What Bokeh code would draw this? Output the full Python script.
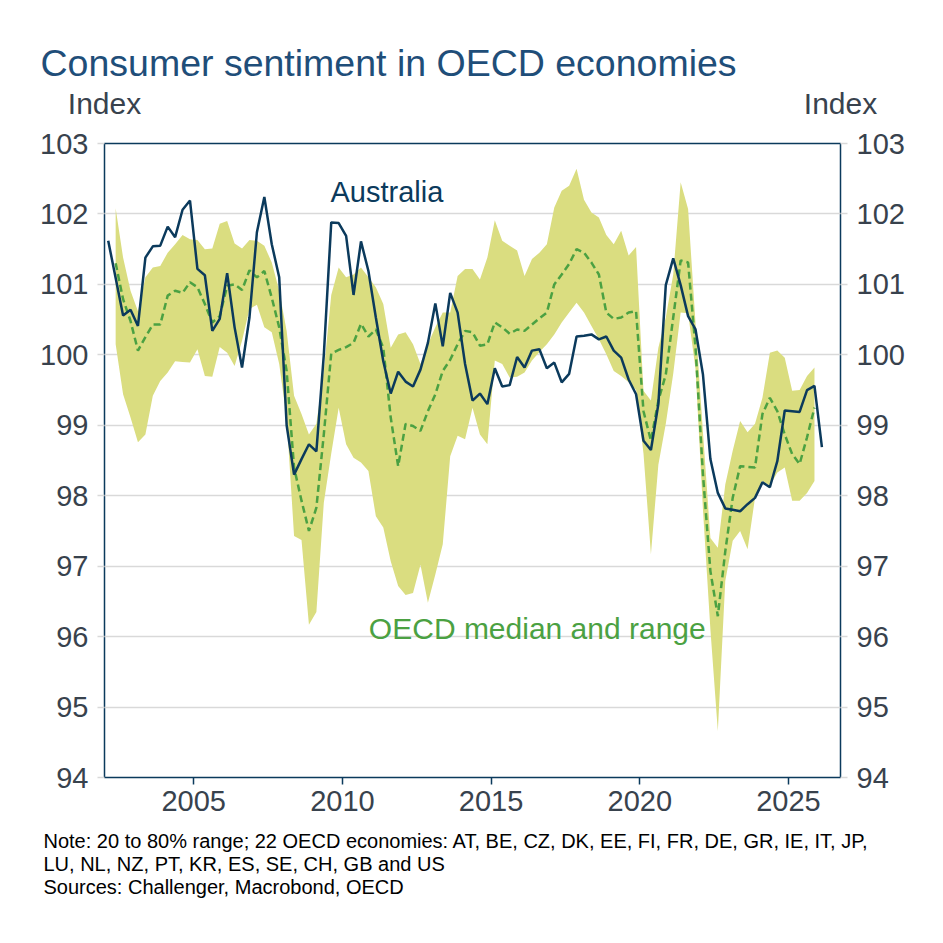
from bokeh.plotting import figure
from bokeh.models import Range1d, LinearAxis, FixedTicker, Label
from bokeh.layouts import column
from bokeh.embed import file_html
from bokeh.resources import INLINE

# ---------------- data (quarterly) ----------------
aus_start = (2002, 1)    # first quarter of the Australian series
oecd_start = (2002, 2)   # first quarter of the OECD series

australia = [
    101.62, 101.09, 100.56, 100.64, 100.41, 101.38, 101.54, 101.55, 101.82, 101.67,
    102.06, 102.19, 101.22, 101.13, 100.34, 100.51, 101.16, 100.39, 99.82, 100.53,
    101.74, 102.24, 101.57, 101.10, 99.00, 98.30, 98.52, 98.73, 98.63, 100.00,
    101.88, 101.87, 101.69, 100.85, 101.61, 101.19, 100.53, 99.91, 99.45, 99.76,
    99.62, 99.55, 99.79, 100.17, 100.73, 100.12, 100.88, 100.60, 99.87, 99.35,
    99.45, 99.30, 99.81, 99.55, 99.57, 99.97, 99.82, 100.06, 100.08, 99.81,
    99.89, 99.61, 99.73, 100.26, 100.27, 100.29, 100.22, 100.26, 100.06, 99.96,
    99.65, 99.44, 98.78, 98.65, 99.30, 100.99, 101.37, 100.99, 100.55, 100.36,
    99.72, 98.52, 98.04, 97.82, 97.80, 97.78, 97.88, 97.97, 98.19, 98.12,
    98.49, 99.21, 99.20, 99.19, 99.50, 99.56, 98.69,
]

oecd_median = [
    101.30, 100.79, 100.48, 100.06, 100.25, 100.43, 100.43, 100.84, 100.91, 100.88,
    101.03, 100.96, 100.72, 100.46, 100.55, 100.98, 101.00, 100.92, 101.20, 101.10,
    101.19, 100.81, 100.39, 99.77, 98.40, 97.93, 97.50, 97.83, 98.87, 100.02,
    100.07, 100.11, 100.17, 100.44, 100.26, 100.36, 100.10, 99.11, 98.42, 99.02,
    98.99, 98.92, 99.20, 99.44, 99.77, 99.93, 100.15, 100.34, 100.32, 100.13,
    100.15, 100.46, 100.39, 100.30, 100.36, 100.34, 100.43, 100.52, 100.60, 101.00,
    101.14, 101.29, 101.50, 101.45, 101.31, 101.14, 100.60, 100.51, 100.53, 100.60,
    100.62, 99.20, 98.78, 99.35, 99.72, 100.53, 101.34, 101.31, 100.10, 98.30,
    96.93, 96.29, 97.21, 97.97, 98.42, 98.41, 98.40, 99.16, 99.39, 99.20,
    98.87, 98.59, 98.45, 98.83, 99.25,
]

oecd_upper = [
    102.08, 101.38, 100.91, 100.62, 101.10, 101.24, 101.26, 101.45, 101.57, 101.70,
    101.64, 101.63, 101.50, 101.51, 101.86, 101.90, 101.58, 101.51, 101.63, 101.62,
    101.55, 101.31, 100.91, 100.34, 99.42, 99.16, 98.87, 99.02, 99.77, 100.85,
    101.24, 101.10, 101.14, 101.24, 101.10, 100.96, 100.72, 100.10, 100.29, 100.32,
    100.15, 99.87, 100.15, 100.39, 100.60, 100.60, 101.12, 101.22, 101.22, 101.07,
    101.38, 101.91, 101.62, 101.55, 101.48, 101.12, 101.36, 101.45, 101.57, 102.09,
    102.33, 102.40, 102.64, 102.20, 102.02, 101.95, 101.70, 101.57, 101.76, 101.41,
    101.53, 99.49, 99.35, 100.10, 100.53, 101.14, 102.45, 102.07, 100.45, 98.90,
    97.40, 97.26, 98.16, 98.64, 99.06, 98.90, 99.02, 99.39, 100.03, 100.06,
    99.96, 99.49, 99.50, 99.70, 99.82,
]

oecd_lower = [
    100.15, 99.44, 99.11, 98.76, 98.87, 99.42, 99.63, 99.75, 99.91, 99.90,
    99.89, 100.08, 99.70, 99.69, 100.11, 100.03, 99.84, 100.20, 100.65, 100.71,
    100.39, 100.32, 99.87, 99.10, 97.43, 97.37, 96.17, 96.35, 97.90, 98.60,
    99.25, 98.73, 98.54, 98.47, 98.35, 97.71, 97.55, 97.07, 96.72, 96.59,
    96.62, 97.02, 96.48, 96.88, 97.31, 98.56, 98.85, 98.80, 99.25, 98.87,
    98.73, 99.92, 99.87, 99.68, 99.69, 99.75, 99.92, 100.04, 100.15, 100.29,
    100.46, 100.60, 100.74, 100.60, 100.41, 100.22, 100.01, 99.77, 99.70, 99.61,
    99.50, 98.60, 97.17, 98.44, 99.02, 99.73, 100.60, 100.59, 99.80, 97.80,
    96.10, 94.66, 96.79, 97.36, 97.50, 97.24, 97.97, 98.21, 98.14, 98.33,
    98.40, 97.93, 97.93, 98.04, 98.21,
]

x_ticks = [2005, 2010, 2015, 2020, 2025]
y_ticks = [94, 95, 96, 97, 98, 99, 100, 101, 102, 103]

title_text = "Consumer sentiment in OECD economies"
axis_unit = "Index"
series_labels = ["Australia", "OECD median and range"]
notes = [
    "Note: 20 to 80% range; 22 OECD economies: AT, BE, CZ, DK, EE, FI, FR, DE, GR, IE, IT, JP,",
    "LU, NL, NZ, PT, KR, ES, SE, CH, GB and US",
    "Sources: Challenger, Macrobond, OECD",
]


def quarter_positions(start, n):
    """Decimal-year position of the middle of each quarter."""
    year, q = start
    return [year + (q - 1 + i) * 0.25 + 0.125 for i in range(n)]


x_aus = quarter_positions(aus_start, len(australia))
x_oecd = quarter_positions(oecd_start, len(oecd_median))

# ---------------- style ----------------
FONT = "Liberation Sans"
NAVY = "#0b3a5c"
GREEN = "#4ba142"
BAND = "#dadd80"
TITLE_C = "#1f4e79"
TXT = "#38424d"
GRID = "#d9d9d9"

W = 943
TOP_H = 124          # header strip (title, units)
BOT_H = 116          # footer strip (notes)
MAIN_H = W - TOP_H - BOT_H
FL, FR = 104, 103
FT = 143 - TOP_H               # frame top at y=143 on the page
FB = MAIN_H - (777 - TOP_H)    # frame bottom at y=777 on the page
DY = 12                        # measured baseline correction of the text strips


def text_strip(height):
    f = figure(width=W, height=height, output_backend="svg", toolbar_location=None,
               x_range=Range1d(0, W), y_range=Range1d(height, 0),
               x_axis_type=None, y_axis_type=None,
               min_border=0, min_border_left=0, min_border_right=0,
               min_border_top=0, min_border_bottom=0, frame_align=False)
    f.title = None
    f.outline_line_color = None
    f.grid.visible = False
    f.background_fill_color = "white"
    f.border_fill_color = "white"
    return f


def put(f, x, y, txt, size, color, align="left"):
    f.add_layout(Label(x=x, y=y - DY, text=txt, text_font=FONT, text_font_size=size,
                       text_color=color, text_baseline="alphabetic", text_align=align))


# header (coordinates are page pixels)
top = text_strip(TOP_H)
put(top, 40, 74, title_text, "37.5px", TITLE_C)
put(top, FL, 115, axis_unit, "30px", TXT, "center")
put(top, W - FR, 115, axis_unit, "30px", TXT, "center")

# footer (coordinates are page pixels minus the strip offset)
bot = text_strip(BOT_H)
for i, line in enumerate(notes):
    put(bot, 43, (852 - (W - BOT_H)) + 23 * i, line, "20px", "#000000")

# main chart
p = figure(width=W, height=MAIN_H, output_backend="svg", toolbar_location=None,
           x_range=Range1d(2002.0, 2026.75), y_range=Range1d(94, 103),
           min_border_left=FL, min_border_right=FR, min_border_top=FT,
           min_border_bottom=FB, frame_align=False)
p.title = None
p.background_fill_color = "white"
p.border_fill_color = "white"
p.outline_line_color = NAVY
p.outline_line_width = 1.5

p.xgrid.visible = False
p.ygrid.ticker = FixedTicker(ticks=y_ticks)
p.ygrid.grid_line_color = GRID
p.ygrid.grid_line_width = 1.5

xa = p.xaxis[0]
xa.ticker = FixedTicker(ticks=x_ticks)
xa.axis_line_color = None
xa.major_tick_line_color = NAVY
xa.major_tick_line_width = 1.5
xa.major_tick_out = 7
xa.major_tick_in = 0
xa.minor_tick_line_color = None
xa.major_label_text_font = FONT
xa.major_label_text_font_size = "29px"
xa.major_label_text_color = TXT
xa.major_label_standoff = 6

ya = p.yaxis[0]
yr = LinearAxis()
p.add_layout(yr, "right")
for ax in (ya, yr):
    ax.ticker = FixedTicker(ticks=y_ticks)
    ax.axis_line_color = None
    ax.major_tick_line_color = GRID
    ax.major_tick_line_width = 1.5
    ax.major_tick_out = 7
    ax.major_tick_in = 0
    ax.minor_tick_line_color = None
    ax.major_label_text_font = FONT
    ax.major_label_text_font_size = "29px"
    ax.major_label_text_color = TXT
    ax.major_label_standoff = 9

p.varea(x=x_oecd, y1=oecd_lower, y2=oecd_upper, fill_color=BAND, fill_alpha=1.0)
p.line(x=x_oecd, y=oecd_median, line_color=GREEN, line_width=2.5, line_dash="7 4")
p.line(x=x_aus, y=australia, line_color=NAVY, line_width=2.5)

p.add_layout(Label(x=2009.6, y=102.31, text=series_labels[0], text_font=FONT,
                   text_font_size="29px", text_color=NAVY,
                   text_baseline="alphabetic", text_align="left"))
p.add_layout(Label(x=2010.89, y=96.11, text=series_labels[1], text_font=FONT,
                   text_font_size="30px", text_color=GREEN,
                   text_baseline="alphabetic", text_align="left"))

layout = column(top, p, bot, spacing=0)
open("out.html", "w").write(file_html(layout, INLINE))
